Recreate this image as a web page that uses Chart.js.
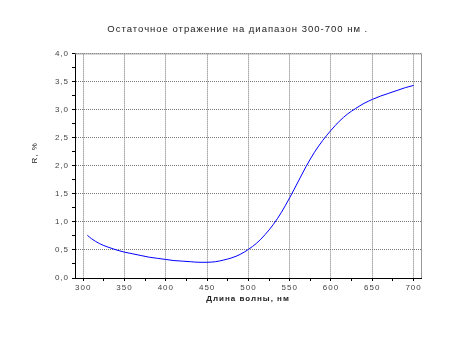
<!DOCTYPE html>
<html>
<head>
<meta charset="utf-8">
<script src="https://cdn.jsdelivr.net/npm/chart.js@4/dist/chart.umd.min.js"></script>
<style>
  html, body { margin: 0; padding: 0; background: #fff; }
  #wrap { width: 450px; height: 337px; }
</style>
</head>
<body>
<div id="wrap"><canvas id="grafica"></canvas></div>
<script>
// длина волны, нм
const dlinaVolny = [305, 310, 320, 330, 340, 350, 360, 370, 380, 390, 400, 410, 420, 430, 440, 450,
    460, 470, 480, 490, 500, 510, 520, 530, 540, 550, 560, 570, 580, 590, 600,
    610, 620, 630, 640, 650, 660, 670, 680, 690, 700];
// R, %
const otrazhenie = [0.76, 0.70, 0.61, 0.55, 0.50, 0.46, 0.43, 0.40, 0.37, 0.35, 0.33, 0.31, 0.30, 0.29, 0.28, 0.28,
    0.29, 0.32, 0.36, 0.42, 0.51, 0.62, 0.77, 0.95, 1.17, 1.43, 1.71, 1.99, 2.24, 2.45, 2.63,
    2.79, 2.92, 3.02, 3.11, 3.18, 3.24, 3.29, 3.34, 3.39, 3.43];

const xTicks = [300, 325, 350, 375, 400, 425, 450, 475, 500, 525, 550, 575, 600, 625, 650, 675, 700];
const yTicks = [0, 0.25, 0.5, 0.75, 1, 1.25, 1.5, 1.75, 2, 2.25, 2.5, 2.75, 3, 3.25, 3.5, 3.75, 4];

const espaciado = {
    id: "espaciado",
    beforeInit(chart) { chart.ctx.letterSpacing = "1px"; },
    beforeDraw(chart) {
        const c = chart.ctx;
        c.save();
        c.fillStyle = "#fff";
        c.fillRect(0, 0, chart.width, chart.height);
        c.restore();
        c.letterSpacing = "1px";
    },
    afterDraw(chart) {
        const { ctx, chartArea: a } = chart;
        ctx.save();
        ctx.strokeStyle = "#999";
        ctx.lineWidth = 1;
        ctx.beginPath();
        ctx.moveTo(a.right + 0.5, a.top);
        ctx.lineTo(a.right + 0.5, a.bottom);
        ctx.moveTo(a.left, a.top + 0.5);
        ctx.lineTo(a.right, a.top + 0.5);
        ctx.stroke();
        ctx.restore();
    }
};

const ctx = document.getElementById("grafica").getContext("2d");

new Chart(ctx, {
    type: "line",
    data: {
        datasets: [{
            data: dlinaVolny.map((x, i) => ({ x: x, y: otrazhenie[i] })),
            borderColor: "#0000ff",
            borderWidth: 1,
            pointRadius: 0,
            cubicInterpolationMode: "monotone",
            fill: false
        }]
    },
    options: {
        responsive: true,
        maintainAspectRatio: false,
        animation: false,
        layout: { padding: { left: 0, right: 29, top: 0, bottom: 0 } },
        plugins: {
            legend: { display: false },
            tooltip: { enabled: false },
            title: {
                display: true,
                // ведущие пробелы сдвигают заголовок вправо, как в оригинале
                text: "               Остаточное отражение на диапазон 300-700 нм .",
                color: "#222",
                font: { family: "Arial, Liberation Sans", size: 9.5, weight: "normal" },
                padding: { top: 24, bottom: 18 }
            }
        },
        scales: {
            x: {
                type: "linear",
                min: 290,
                max: 709,
                afterBuildTicks: s => { s.ticks = xTicks.map(v => ({ value: v })); },
                afterFit: s => { s.height = 59; },
                ticks: {
                    autoSkip: false,
                    maxRotation: 0,
                    padding: 2,
                    color: "#444",
                    font: { family: "Arial, Liberation Sans", size: 8 },
                    callback: v => (v % 50 === 0 ? String(v) : "")
                },
                grid: {
                    color: c => (c.tick && c.tick.value % 50 === 0 ? "#777" : "rgba(0,0,0,0)"),
                    tickColor: "#000",
                    tickLength: 3,
                    lineWidth: 1
                },
                border: { color: "#000", width: 1, dash: [1, 1] },
                title: {
                    display: true,
                    text: "Длина волны, нм",
                    color: "#222",
                    font: { family: "Arial, Liberation Sans", size: 8, weight: "bold" },
                    padding: { top: 0, bottom: 33 }
                }
            },
            y: {
                min: 0,
                max: 4,
                afterBuildTicks: s => { s.ticks = yTicks.map(v => ({ value: v })); },
                afterFit: s => { s.width = 75; },
                ticks: {
                    autoSkip: false,
                    padding: 3,
                    color: "#444",
                    font: { family: "Arial, Liberation Sans", size: 8 },
                    callback: v => (Math.round(v * 100) % 50 === 0 ? v.toFixed(1).replace(".", ",") : "")
                },
                grid: {
                    color: c => (c.tick && Math.round(c.tick.value * 100) % 50 === 0 ? "#777" : "rgba(0,0,0,0)"),
                    tickColor: "#000",
                    tickLength: 3,
                    lineWidth: 1
                },
                border: { color: "#000", width: 1, dash: [1, 1] },
                title: {
                    display: true,
                    text: "        R, %",
                    color: "#222",
                    font: { family: "Arial, Liberation Sans", size: 8 },
                    padding: { top: 30, bottom: 0 }
                }
            }
        }
    },
    plugins: [espaciado]
});
</script>
</body>
</html>
